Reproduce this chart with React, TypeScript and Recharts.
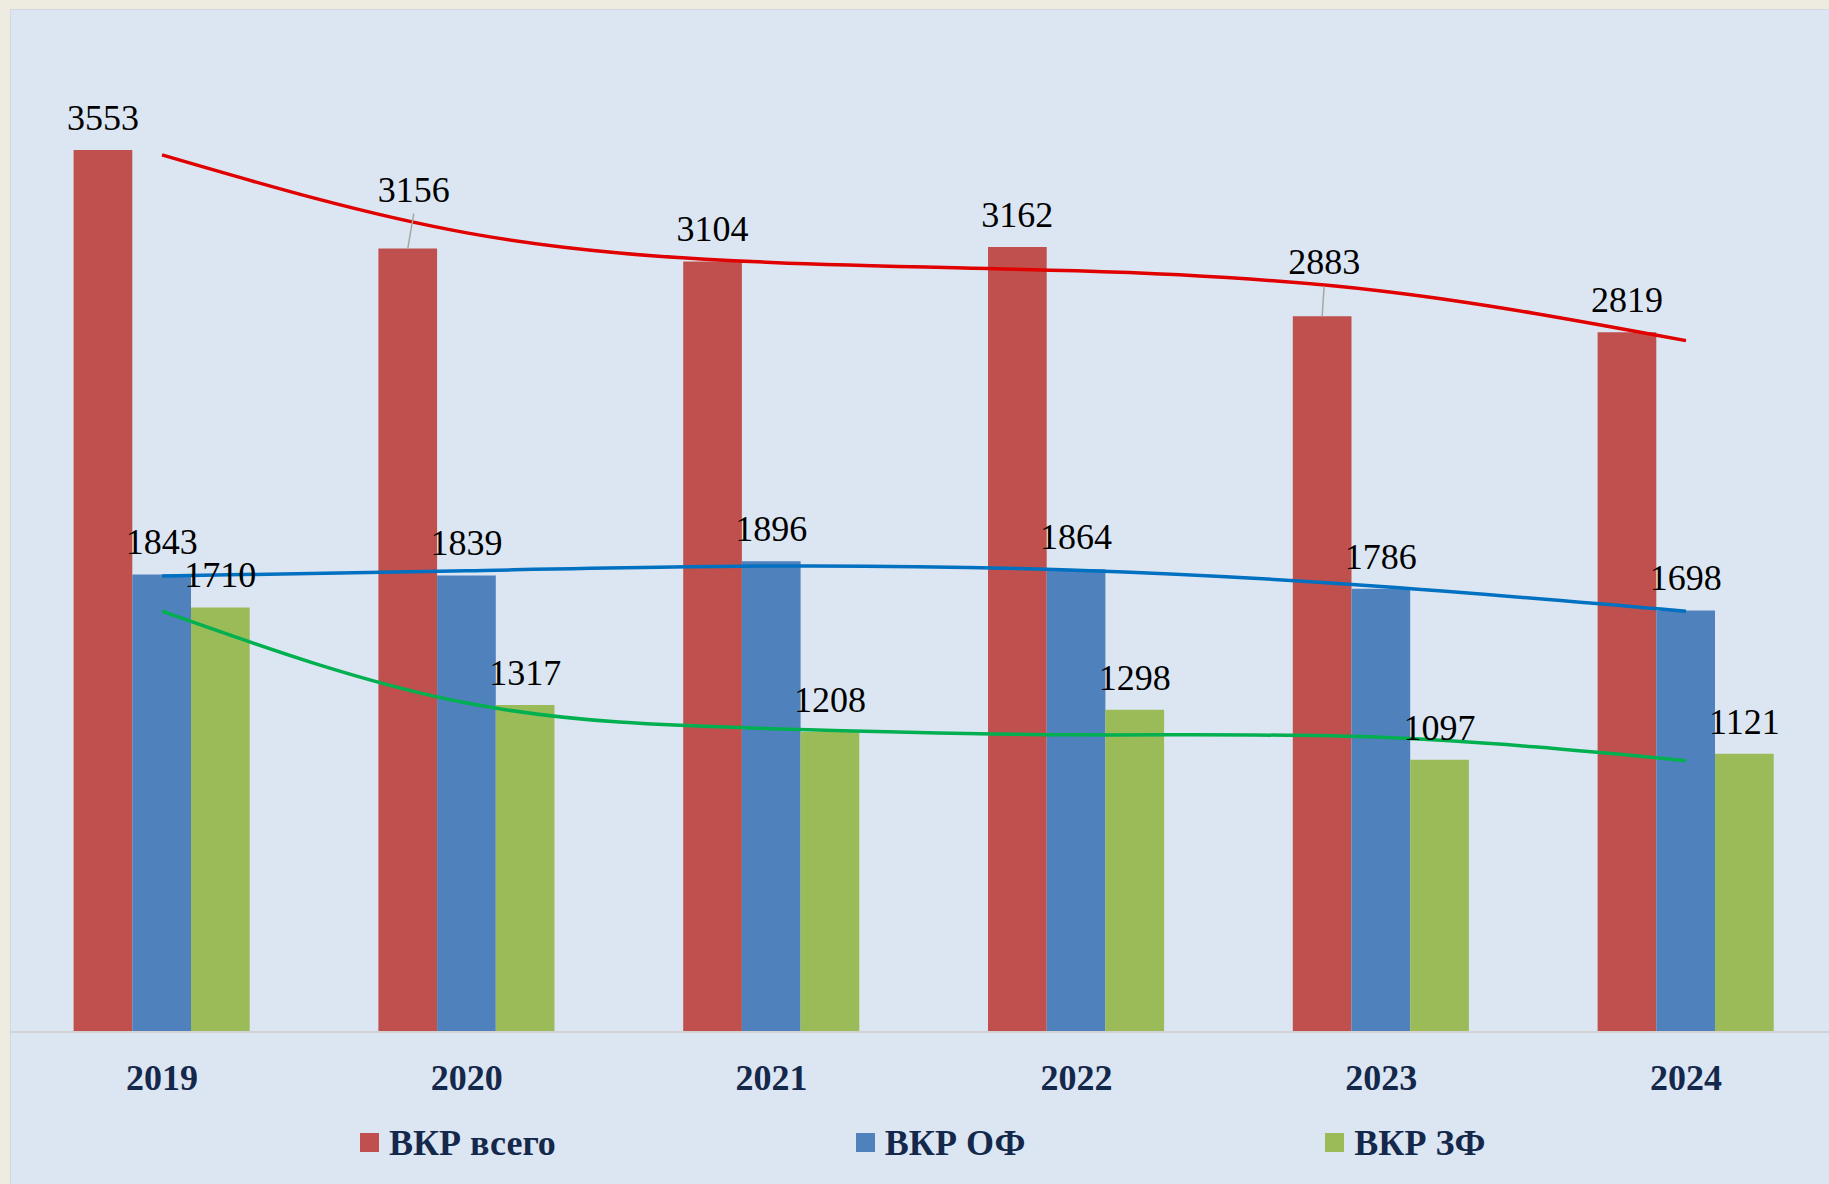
import React from 'react';
import { ComposedChart, Bar, Line, XAxis, YAxis, LabelList } from 'recharts';

const years = ['2019', '2020', '2021', '2022', '2023', '2024'];
const vkrTotal = [3553, 3156, 3104, 3162, 2883, 2819];
const vkrOF = [1843, 1839, 1896, 1864, 1786, 1698];
const vkrZF = [1710, 1317, 1208, 1298, 1097, 1121];
// trend lines at each year
const trendTotal = [3533, 3219, 3100, 3066, 2985, 2785];
const trendOF = [1837, 1858, 1877, 1860, 1795, 1695];
const trendZF = [1695, 1325, 1222, 1197, 1187, 1093];

const seriesNames = ['ВКР всего', 'ВКР ОФ', 'ВКР ЗФ'];

const data = years.map((year, i) => ({
  year,
  total: vkrTotal[i],
  of: vkrOF[i],
  zf: vkrZF[i],
  tTotal: trendTotal[i],
  tOF: trendOF[i],
  tZF: trendZF[i],
}));

const FONT = '"Liberation Serif", "Times New Roman", Times, serif';
const COLORS = { total: '#C0504D', of: '#4F81BD', zf: '#9BBB59' };
const TREND = { total: '#E00000', of: '#0070C0', zf: '#00B050' };
const NAVY = '#14284B';

// labels that Excel moved up with a leader line
const labelNudge: Record<string, { dx: number; lift: number }> = {
  'total-1': { dx: 6, lift: 27 },
  'total-4': { dx: 2, lift: 22 },
};

const seriesArrays: Record<string, number[]> = { total: vkrTotal, of: vkrOF, zf: vkrZF };

const makeLabel = (key: string) => (props: any) => {
  const { x, y, width, value } = props;
  let index = props.index;
  if (index === undefined || index === null) index = seriesArrays[key].indexOf(Number(value));
  const cx = Number(x) + Number(width) / 2;
  const top = Number(y);
  const n = labelNudge[`${key}-${index}`];
  const lift = n ? n.lift : 0;
  const dx = n ? n.dx : 0;
  const baseline = top - 20 - lift;
  return (
    <g>
      {n && (
        <line x1={cx} y1={top} x2={cx + dx} y2={baseline + 12} stroke="#A6A6A6" strokeWidth={1.5} />
      )}
      <text x={cx + dx} y={baseline} textAnchor="middle" fontSize={36} fill="#000000" fontFamily={FONT}>
        {value}
      </text>
    </g>
  );
};

const YearTick = (props: any) => {
  const { x, y, payload } = props;
  return (
    <text
      x={x}
      y={Number(y) + 58}
      textAnchor="middle"
      fontSize={36}
      fontWeight="bold"
      fill={NAVY}
      fontFamily={FONT}
    >
      {payload.value}
    </text>
  );
};

export default function App() {
  const legendColors = [COLORS.total, COLORS.of, COLORS.zf];
  return (
    <div
      style={{
        position: 'absolute',
        left: 0,
        top: 0,
        width: 1829,
        height: 1184,
        overflow: 'hidden',
        background: '#EEEBE0',
      }}
    >
      <div
        style={{
          position: 'absolute',
          left: 10,
          top: 9,
          right: 0,
          bottom: 0,
          background: '#DCE6F2',
          borderTop: '1px solid #D2D9E3',
          borderLeft: '1px solid #D2D9E3',
        }}
      />
      <div style={{ position: 'absolute', left: 0, top: 0 }}>
        <ComposedChart
          width={1840}
          height={1184}
          data={data}
          margin={{ top: 39, right: 1.6, left: 9.6, bottom: 92 }}
          barGap={0}
          barSize={58.7}
        >
          <XAxis
            dataKey="year"
            height={60}
            tickSize={0}
            tickMargin={0}
            tickLine={false}
            axisLine={{ stroke: '#D2D2D2', strokeWidth: 2 }}
            tick={<YearTick />}
            interval={0}
          />
          <YAxis hide domain={[0, 4000]} />
          <Bar dataKey="total" name={seriesNames[0]} fill={COLORS.total} isAnimationActive={false}>
            <LabelList dataKey="total" content={makeLabel('total')} />
          </Bar>
          <Bar dataKey="of" name={seriesNames[1]} fill={COLORS.of} isAnimationActive={false}>
            <LabelList dataKey="of" content={makeLabel('of')} />
          </Bar>
          <Bar dataKey="zf" name={seriesNames[2]} fill={COLORS.zf} isAnimationActive={false}>
            <LabelList dataKey="zf" content={makeLabel('zf')} />
          </Bar>
          <Line
            type="natural"
            dataKey="tTotal"
            stroke={TREND.total}
            strokeWidth={3.5}
            dot={false}
            activeDot={false}
            legendType="none"
            isAnimationActive={false}
          />
          <Line
            type="natural"
            dataKey="tOF"
            stroke={TREND.of}
            strokeWidth={3.5}
            dot={false}
            activeDot={false}
            legendType="none"
            isAnimationActive={false}
          />
          <Line
            type="natural"
            dataKey="tZF"
            stroke={TREND.zf}
            strokeWidth={3.5}
            dot={false}
            activeDot={false}
            legendType="none"
            isAnimationActive={false}
          />
        </ComposedChart>
      </div>
      <div
        style={{
          position: 'absolute',
          left: 360,
          top: 1123.5,
          display: 'flex',
          gap: 300,
          fontFamily: FONT,
          fontWeight: 'bold',
          fontSize: 36,
          lineHeight: '38px',
          color: NAVY,
          whiteSpace: 'nowrap',
        }}
      >
        {seriesNames.map((name, i) => (
          <div key={name} style={{ display: 'flex', alignItems: 'center', height: 38 }}>
            <span
              style={{ display: 'inline-block', width: 19, height: 19, background: legendColors[i], marginRight: 10 }}
            />
            <span>{name}</span>
          </div>
        ))}
      </div>
    </div>
  );
}
